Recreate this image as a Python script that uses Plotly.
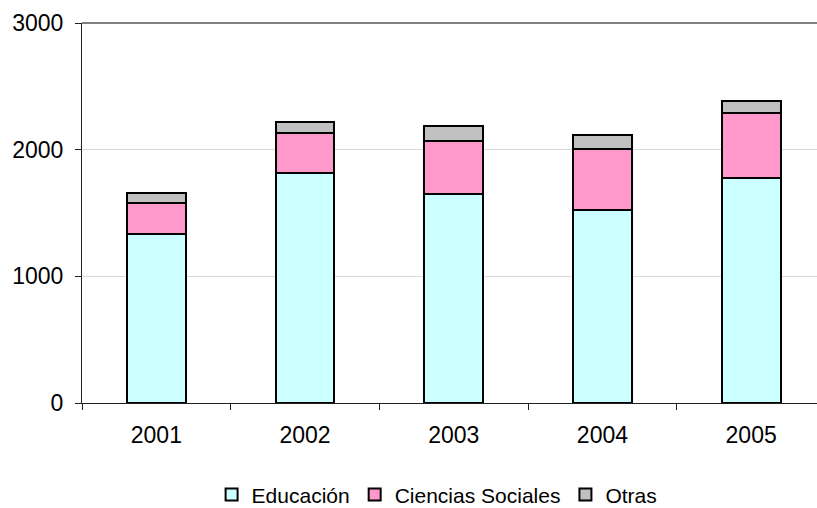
import plotly.graph_objects as go

years = ["2001", "2002", "2003", "2004", "2005"]
educacion = [1333, 1814, 1651, 1525, 1775]
ciencias_sociales = [247, 316, 421, 479, 511]
otras = [74, 87, 111, 111, 97]

font = "Liberation Sans, Arial, sans-serif"

fig = go.Figure()
fig.add_trace(go.Bar(x=years, y=educacion, name="Educación",
                     marker=dict(color="#CCFFFF", line=dict(color="black", width=2))))
fig.add_trace(go.Bar(x=years, y=ciencias_sociales, name="Ciencias Sociales",
                     marker=dict(color="#FF99CC", line=dict(color="black", width=2))))
fig.add_trace(go.Bar(x=years, y=otras, name="Otras",
                     marker=dict(color="#C0C0C0", line=dict(color="black", width=2))))

fig.update_layout(
  width=817, height=508,
  barmode="stack", bargap=0.605,
  plot_bgcolor="white", paper_bgcolor="white",
  margin=dict(l=82, r=0, t=23, b=105),
  font=dict(family=font, size=23, color="black"),
  legend=dict(orientation="h", x=0.535, xref="container", xanchor="center",
              y=0.026, yref="container", yanchor="middle",
              font=dict(size=21), traceorder="normal"),
  showlegend=True,
)
# plot area runs past the right edge, last category is cut off like the original
fig.update_xaxes(type="category", range=[-0.5, 4.443], automargin=False,
                 showline=True, linecolor="#202020", linewidth=1,
                 ticks="outside", tickson="boundaries", ticklen=6, tickcolor="#202020",
                 ticklabelstandoff=11, showgrid=False)
fig.update_yaxes(range=[0, 3000], dtick=1000, automargin=False,
                 showline=True, linecolor="#202020", linewidth=1,
                 ticks="outside", ticklen=6, tickcolor="#202020",
                 ticklabelstandoff=7,
                 showgrid=True, gridcolor="#D9D9D9", gridwidth=1, zeroline=False)
# gray plot area border along the top
fig.add_shape(type="line", xref="paper", yref="paper", x0=0, x1=1, y0=1, y1=1,
              line=dict(color="#808080", width=2))

# drop the default page margin so the figure fills the window exactly
fig.write_html("out.html", config={"displayModeBar": False},
               post_script="document.body.style.margin='0';")
